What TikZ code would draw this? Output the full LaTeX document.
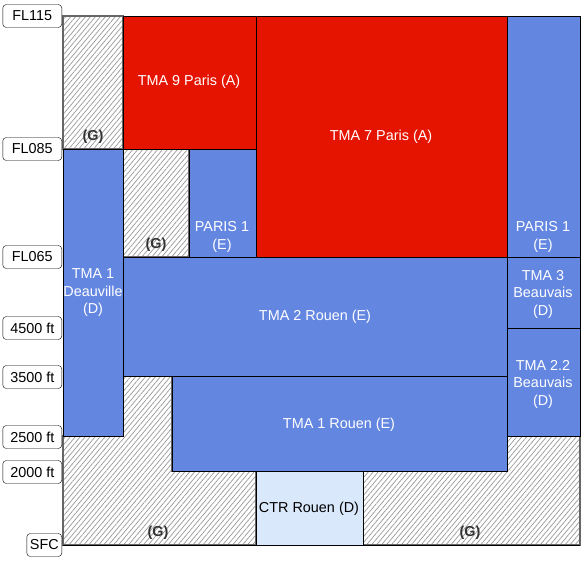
\documentclass[tikz,border=0pt]{standalone}
\usepackage{fontspec}
\setmainfont{Liberation Sans}
\usepackage{tikz}
\usetikzlibrary{patterns.meta}
\definecolor{cblue}{HTML}{6386E1}
\definecolor{cred}{HTML}{E51400}
\definecolor{clight}{HTML}{DAE8FC}
\definecolor{cgray}{HTML}{666666}
\definecolor{chatch}{HTML}{999999}
\definecolor{cdark}{HTML}{333333}
\newcommand{\zfont}{\fontsize{14.4}{17.5}\selectfont}
\tikzset{
  zone/.style={draw=black, line width=0.9pt},
  tma/.style={zone, fill=cblue},
  prohib/.style={zone, fill=cred},
  ctr/.style={zone, fill=clight},
  uncl/.style={draw=cgray, line width=1.2pt, preaction={fill=white},
    pattern={Lines[angle=50, distance=3.8pt, line width=0.7pt]}, pattern color=chatch},
  zlabel/.style={font=\zfont, text=white, align=center, inner sep=0pt},
  glabel/.style={font=\zfont\bfseries, text=cdark, inner sep=0pt},
  level/.style={draw=black, rounded corners=3.5pt, fill=white, anchor=east,
    minimum width=59pt, minimum height=23pt, inner sep=0pt, font=\zfont},
}
\begin{document}
\begin{tikzpicture}[x=1pt, y=-1pt]
  \useasboundingbox (0,0) rectangle (583,562);
  % class G areas
  \draw[uncl] (63,16) rectangle (123,149);
  \draw[uncl] (123,149) rectangle (189,257);
  \draw[uncl] (63,436) -- (123,436) -- (123,376) -- (172,376) -- (172,471)
    -- (256,471) -- (256,545) -- (63,545) -- cycle;
  \draw[uncl] (363,545) -- (363,471) -- (507,471) -- (507,436) -- (580,436)
    -- (580,545) -- cycle;
  % controlled areas
  \draw[prohib] (123,16) rectangle (256,149);
  \draw[prohib] (256,16) rectangle (507,257);
  \draw[tma] (507,16) rectangle (580,257);
  \draw[tma] (63,149) rectangle (123,436);
  \draw[tma] (189,149) rectangle (256,257);
  \draw[tma] (123,257) rectangle (507,376);
  \draw[tma] (507,257) rectangle (580,328);
  \draw[tma] (507,328) rectangle (580,436);
  \draw[tma] (172,376) rectangle (507,471);
  \draw[ctr] (256,471) rectangle (363,545);
  \draw[black, line width=0.9pt] (63,545) -- (580,545);
  % labels
  \node[glabel] (g1) at (93,137) {(G)};
  \node[glabel] (g2) at (156,245) {(G)};
  \node[glabel] (g3) at (158,533) {(G)};
  \node[glabel] (g4) at (470,533) {(G)};
  \node[zlabel] (tma9) at (189,82) {TMA 9 Paris (A)};
  \node[zlabel] (tma7) at (381,137) {TMA 7 Paris (A)};
  \node[zlabel] (par1r) at (543,237) {PARIS 1\\(E)};
  \node[zlabel] (par1m) at (222,237) {PARIS 1\\(E)};
  \node[zlabel] (deauv) at (93,293) {TMA 1\\Deauville\\(D)};
  \node[zlabel] (rouen2) at (315,317) {TMA 2 Rouen (E)};
  \node[zlabel] (beauv3) at (543,294) {TMA 3\\Beauvais\\(D)};
  \node[zlabel] (beauv22) at (543,384) {TMA 2.2\\Beauvais\\(D)};
  \node[zlabel] (rouen1) at (339,425) {TMA 1 Rouen (E)};
  \node[zlabel, text=black] (ctr) at (309,509) {CTR Rouen (D)};
  % levels
  \foreach \n/\lab/\yy in {fl115/FL115/16, fl085/FL085/149, fl065/FL065/257,
      ft4500/4500 ft/328, ft3500/3500 ft/377, ft2500/2500 ft/437, ft2000/2000 ft/472}
    \node[level] (\n) at (62,\yy) {\lab};
  \node[level, minimum width=35pt] (sfc) at (62,545) {SFC};
\end{tikzpicture}
\end{document}
